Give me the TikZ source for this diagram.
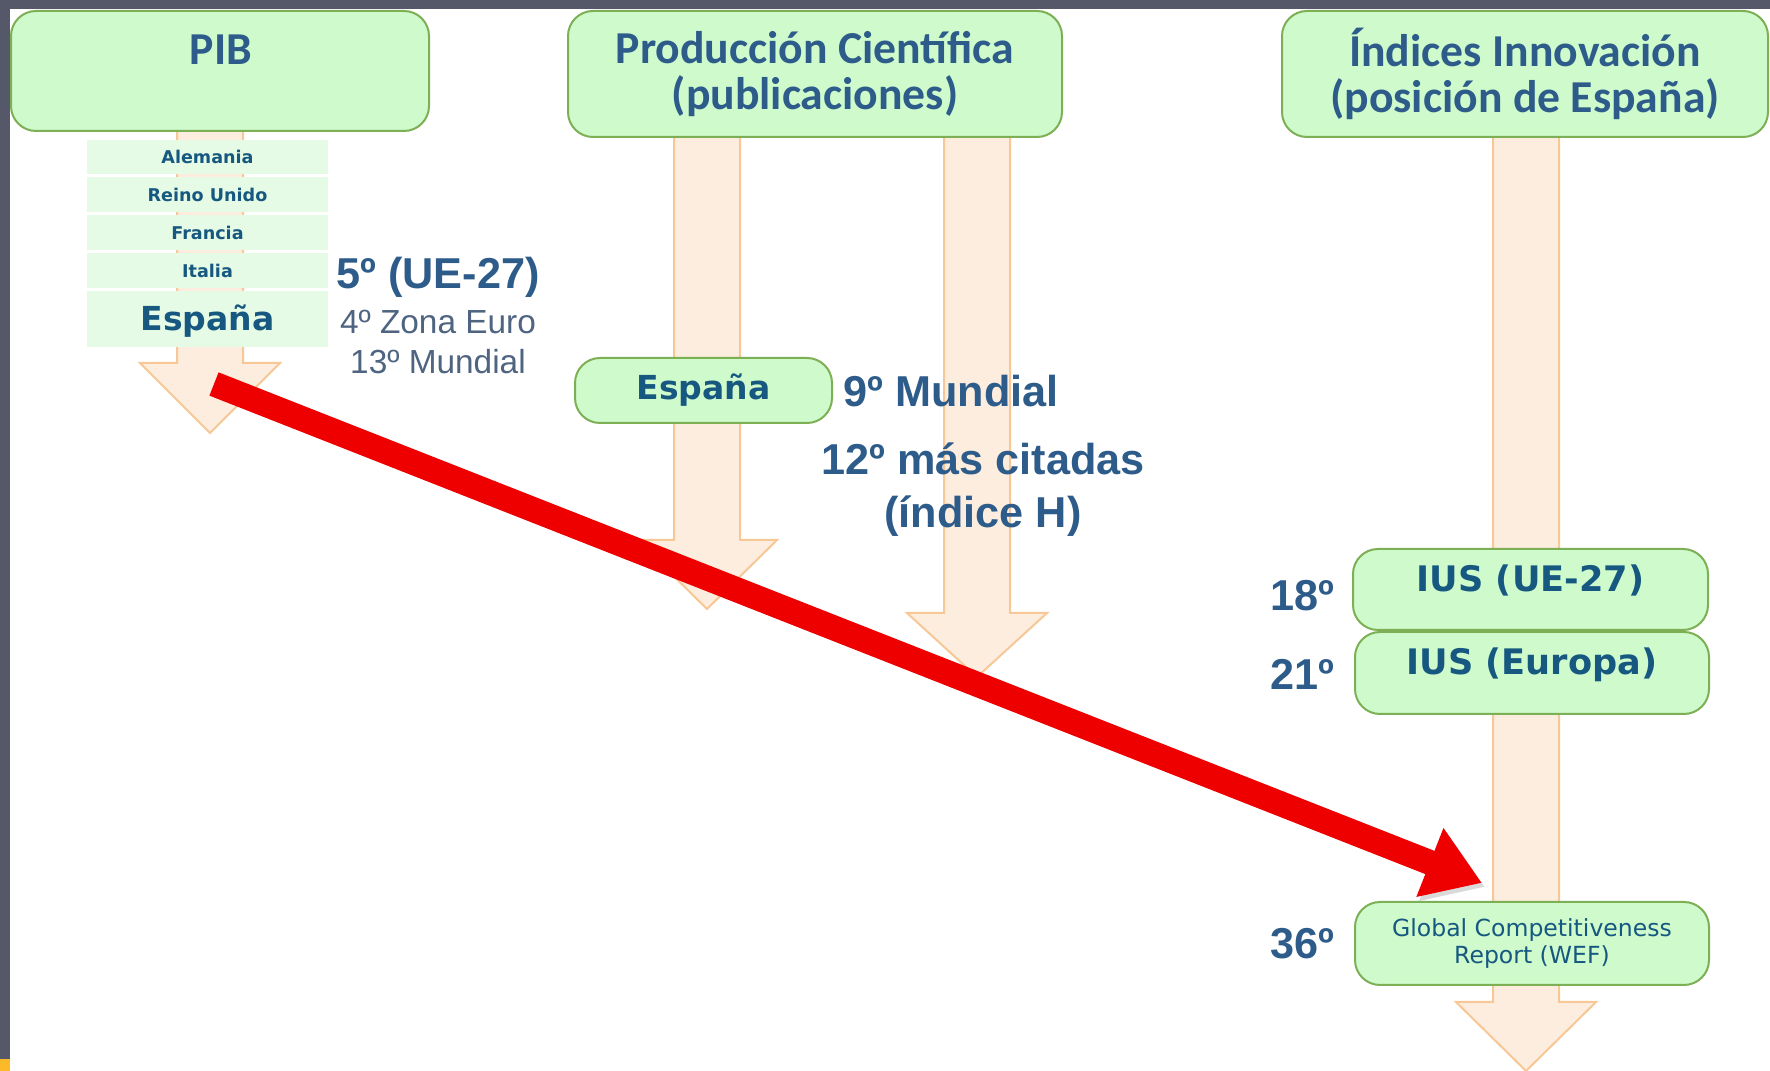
\documentclass[tikz,border=0pt]{standalone}
\usepackage{fontspec}
\setmainfont{Liberation Sans}
\newfontfamily\carlito{Carlito}
\newfontfamily\dejavu{DejaVu Sans}
\usetikzlibrary{arrows.meta}
\definecolor{marco}{RGB}{84,88,105}
\definecolor{amarillo}{RGB}{252,185,40}
\definecolor{verdecaja}{RGB}{206,250,204}
\definecolor{verdefila}{RGB}{229,251,229}
\definecolor{bordeverde}{RGB}{125,175,85}
\definecolor{melocoton}{RGB}{253,237,222}
\definecolor{bordenaranja}{RGB}{247,200,150}
\definecolor{azultit}{RGB}{46,92,138}
\definecolor{azulcaja}{RGB}{22,88,128}
\definecolor{grisazul}{RGB}{78,100,128}
\definecolor{rojo}{RGB}{238,0,0}

\begin{document}
\begin{tikzpicture}
		[x=0.1mm, y=-0.1mm,
		every node/.style={inner sep=0pt},
		caja/.style={draw=bordeverde, fill=verdecaja, line width=0.2mm, rounded corners=2.5mm},
		fila/.style={fill=verdefila, minimum width=24.1mm},
		flecha/.style={draw=bordenaranja, fill=melocoton, line width=0.2mm},
		titulo/.style={font=\carlito\bfseries\fontsize{13}{13.1}\selectfont, text=azultit, align=center},
		pais/.style={font=\dejavu\bfseries\fontsize{5}{6}\selectfont, text=azulcaja},
		rotulo/.style={font=\dejavu\bfseries\fontsize{9.4}{11}\selectfont, text=azulcaja},
		ius/.style={font=\dejavu\bfseries\fontsize{10}{12}\selectfont, text=azulcaja, text depth=2.3mm},
		num/.style={font=\bfseries\fontsize{12.3}{15.1}\selectfont, text=azultit, align=center},
		dato/.style={font=\fontsize{9.5}{11.4}\selectfont, text=grisazul, align=center},
		flecharoja/.style={draw=rojo, line width=2.5mm, -{Triangle[length=5.6mm, width=7mm]},
			preaction={draw=black, opacity=0.15, transform canvas={shift={(0.3mm,-0.4mm)}}}}
		]
		\useasboundingbox (0,0) rectangle (1770,1071);
		\fill[white] (0,0) rectangle (1770,1071);
		\fill[marco] (0,0) rectangle (1770,9);
		\fill[marco] (0,0) rectangle (10,1071);
		\fill[amarillo] (0,1059) rectangle (10,1071);
		% flechas de fondo
		\foreach \cx/\ya/\yb/\yc in {210/131/363/433, 707/137/540/609, 977/137/613/677, 1526/137/1002/1071}
		\draw[flecha] (\cx-33,\ya) -- (\cx-33,\yb) -- (\cx-70,\yb) -- (\cx,\yc) -- (\cx+70,\yb) -- (\cx+33,\yb) -- (\cx+33,\ya);
		\begin{scope}
			\node[caja, minimum width=41.8mm, minimum height=12mm] (PIB) at (220,71) {};
			\node[titulo] (tPIB) at (221,50) {PIB};
			\node[caja, titulo, minimum width=49.4mm, minimum height=12.6mm] (Prod) at (815,74) {Producción Científica\\(publicaciones)};
			\node[caja, titulo, minimum width=48.6mm, minimum height=12.6mm] (Ind) at (1525,74) {Índices Innovación\\(posición de España)};
		\end{scope}
		% ranking PIB
		\foreach \n/\pais/\y/\h in {ale/Alemania/157/3.4, ru/Reino Unido/194.5/3.5, fr/Francia/232.5/3.5, it/Italia/270.5/3.5}
		\node[fila, pais, minimum height=\h mm] (\n) at (207.5,\y) {\pais};
		\node[fila, rotulo, minimum height=5.6mm, text height=3.0mm] (es) at (207.5,319) {España};
		\node[num] (ue) at (438,277) {5º (UE-27)};
		\node[dato] (zona) at (438,342) {4º Zona Euro\\13º Mundial};
		% produccion
		\node[caja, rotulo, minimum width=25.7mm, minimum height=6.5mm] (esprod) at (703.5,390.5) {España};
		\node[num, anchor=west] (mund) at (843,391) {9º Mundial};
		\node[num] (citas) at (983,490) {12º más citadas\\(índice H)};
		% innovacion
		\node[caja, ius, minimum width=35.5mm, minimum height=8.1mm] (iusue) at (1530.5,589.5) {IUS (UE-27)};
		\node[caja, ius, minimum width=35.4mm, minimum height=8.2mm] (iuseu) at (1532,673) {IUS (Europa)};
		\node[caja, font=\dejavu\fontsize{6.7}{7.7}\selectfont, text=azulcaja, align=center, minimum width=35.4mm, minimum height=8.3mm] (wef) at (1532,943.5) {Global Competitiveness\\Report (WEF)};
		\node[num] (n18) at (1302,596) {18º};
		\node[num] (n21) at (1302,674) {21º};
		\node[num] (n36) at (1302,944) {36º};
		% flecha roja
		\coordinate (ini) at (214,384);
		\coordinate (fin) at (1482,883);
		\draw[flecharoja] (ini) -- (fin);
	\end{tikzpicture}
\end{document}
